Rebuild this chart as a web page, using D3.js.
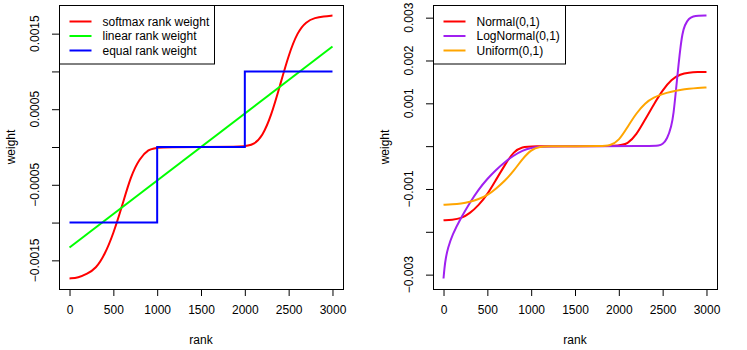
<!DOCTYPE html>
<html>
<head>
<meta charset="utf-8">
<script src="https://cdn.jsdelivr.net/npm/d3@7"></script>
<style>
  body { margin: 0; background: #fff; }
  text { font-family: "Liberation Sans", Arial, Helvetica, sans-serif; fill: #000; }
</style>
</head>
<body>
<script>
// left panel: weighting schemes
var softmaxRank = [0,100,200,300,400,500,600,700,800,900,1000,1500,2000,2100,2200,2300,2400,2500,2600,2700,2800,2900,3000];
var softmaxW = [-0.00174,-0.00173,-0.00168,-0.00161,-0.00143,-0.00115,-0.00078,-0.00038,-0.00015,-0.00003,0,0,0,0.00003,0.00014,0.00041,0.00081,0.00122,0.00152,0.00166,0.00171,0.00173,0.00174];
var linearRank = [0,3000];
var linearW = [-0.00133,0.00133];
var equalRank = [0,1000,2000,3000];
var equalW = [-0.001,0,0.001,0.001];

// right panel: score distributions
var normalRank = [0,100,200,300,400,500,600,700,800,900,1000,1500,2000,2100,2200,2300,2400,2500,2600,2700,2800,2900,3000];
var normalW = [-0.00173,-0.00172,-0.00169,-0.00157,-0.00138,-0.00113,-0.00078,-0.00044,-0.00012,-0.00002,0,0,0,0.00005,0.00026,0.00062,0.00098,0.00131,0.00156,0.00168,0.00172,0.00173,0.00173];
var lognormRank = [0,10,25,50,100,200,300,400,500,600,700,800,900,1000,1100,1200,2400,2450,2500,2550,2600,2625,2650,2675,2700,2725,2750,2800,2850,2900,3000];
var lognormW = [-0.00309,-0.00285,-0.00262,-0.00238,-0.00207,-0.00167,-0.00132,-0.00101,-0.00076,-0.00055,-0.00037,-0.00022,-0.0001,-0.00004,-0.00001,0,0,0.00001,0.00004,0.00016,0.00046,0.00076,0.00127,0.00178,0.00226,0.00263,0.00282,0.00299,0.00303,0.00305,0.00305];
var uniformRank = [0,100,200,300,400,500,600,700,800,900,1000,1100,1200,1500,1800,1900,2000,2100,2200,2300,2400,2500,2600,2700,2800,2900,3000];
var uniformW = [-0.00137,-0.00136,-0.00134,-0.0013,-0.00124,-0.00115,-0.00099,-0.00081,-0.00058,-0.0003,-0.00008,-0.00001,0,0,0,0.00001,0.00012,0.00045,0.00077,0.00101,0.00114,0.00122,0.00127,0.00131,0.00134,0.00136,0.00137];

var xTicks = [0,500,1000,1500,2000,2500,3000];
var leftYTicks = [-0.0015,-0.001,-0.0005,0,0.0005,0.001,0.0015];
var leftYLabels = [-0.0015,-0.0005,0.0005,0.0015];
var rightYTicks = [-0.003,-0.002,-0.001,0,0.001,0.002,0.003];
var rightYLabels = [-0.003,-0.001,0.001,0.002,0.003];

function zip(r, w){ return r.map(function(d,i){ return {x:d, y:w[i]}; }); }

var svg = d3.select("body").append("svg")
    .attr("width", 747).attr("height", 350)
    .attr("viewBox", "0,0,747,350");
svg.append("rect").attr("width", 747).attr("height", 350).attr("fill", "#fff");

var fmt = function(v){ return (v < 0 ? "\u2212" : "") + String(Math.abs(+v.toFixed(6))); };

function drawPanel(p){
    var g = svg.append("g");
    var all = [];
    p.series.forEach(function(s){ all = all.concat(s.w); });
    var ext = d3.extent(all), pad = (ext[1]-ext[0])*0.04;
    var x = d3.scaleLinear().domain([-120, 3120]).range([p.x0, p.x1]);
    var y = d3.scaleLinear().domain([ext[0]-pad, ext[1]+pad]).range([p.y1, p.y0]);

    var line = d3.line().x(function(d){return x(d.x);}).y(function(d){return y(d.y);});
    p.series.forEach(function(s){
        g.append("path")
            .attr("d", line.curve(s.step ? d3.curveStepAfter : d3.curveBasis)(zip(s.r, s.w)))
            .attr("fill", "none").attr("stroke", s.colour).attr("stroke-width", 2);
    });

    // x axis
    var xa = g.append("g").attr("transform", "translate(0," + p.y1 + ")")
        .call(d3.axisBottom(x).tickValues(xTicks).tickSize(7).tickPadding(9).tickFormat(d3.format("d")));
    xa.select(".domain").attr("d", "M" + x(0) + ",0.5H" + x(3000));
    xa.selectAll("text").attr("font-size", 12).attr("font-family", null).attr("fill", "#000");
    xa.selectAll("line,.domain").attr("stroke", "#000");

    // y axis with rotated labels
    var ya = g.append("g").attr("transform", "translate(" + p.x0 + ",0)")
        .call(d3.axisLeft(y).tickValues(p.yTicks).tickSize(7).tickFormat(""));
    ya.select(".domain").remove();
    ya.selectAll("line").attr("stroke", "#000");
    g.selectAll("text.ylab").data(p.yLabels).enter().append("text")
        .attr("class", "ylab")
        .attr("transform", function(d){ return "translate(" + (p.x0 - 20) + "," + y(d) + ") rotate(-90)"; })
        .attr("text-anchor", "middle").attr("font-size", 12)
        .text(fmt);

    // box
    g.append("rect").attr("x", p.x0 + 0.5).attr("y", p.y0 + 0.5)
        .attr("width", p.x1 - p.x0).attr("height", p.y1 - p.y0)
        .attr("fill", "none").attr("stroke", "#000");

    g.append("text").attr("x", (p.x0 + p.x1)/2).attr("y", 344)
        .attr("text-anchor", "middle").attr("font-size", 12).text("rank");
    g.append("text").attr("transform", "translate(" + (p.x0 - 44) + "," + ((p.y0 + p.y1)/2) + ") rotate(-90)")
        .attr("text-anchor", "middle").attr("font-size", 12).text("weight");

    // legend
    var lg = g.append("g").attr("transform", "translate(" + (p.x0 + 0.5) + "," + (p.y0 + 0.5) + ")");
    lg.append("rect").attr("width", p.legendW).attr("height", 58.5)
        .attr("fill", "#fff").attr("stroke", "#000");
    p.series.forEach(function(s, i){
        var yy = 16 + i*14.5;
        lg.append("line").attr("x1", 10).attr("x2", 32).attr("y1", yy).attr("y2", yy)
            .attr("stroke", s.colour).attr("stroke-width", 2);
        lg.append("text").attr("x", 43).attr("y", yy + 4.3).attr("font-size", 12).text(s.name);
    });
}

drawPanel({
    x0: 59, x1: 343, y0: 5, y1: 289, legendW: 155,
    yTicks: leftYTicks, yLabels: leftYLabels,
    series: [
        {name: "softmax rank weight", colour: "#ff0000", r: softmaxRank, w: softmaxW},
        {name: "linear rank weight", colour: "#00ff00", r: linearRank, w: linearW},
        {name: "equal rank weight", colour: "#0000ff", r: equalRank, w: equalW, step: true}
    ]
});
drawPanel({
    x0: 433, x1: 717, y0: 5, y1: 289, legendW: 132,
    yTicks: rightYTicks, yLabels: rightYLabels,
    series: [
        {name: "Normal(0,1)", colour: "#ff0000", r: normalRank, w: normalW},
        {name: "LogNormal(0,1)", colour: "#a020f0", r: lognormRank, w: lognormW},
        {name: "Uniform(0,1)", colour: "#ffa500", r: uniformRank, w: uniformW}
    ]
});
</script>
</body>
</html>
